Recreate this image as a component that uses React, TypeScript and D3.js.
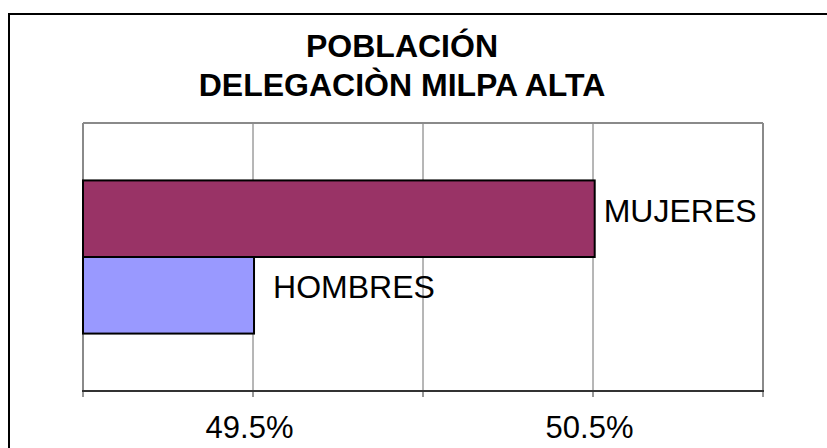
import React from "react";
import * as d3 from "d3";

const titleLines = ["POBLACIÓN", "DELEGACIÒN MILPA ALTA"];
const seriesNames = ["MUJERES", "HOMBRES"];
const seriesValues = [50.505, 49.503];
const seriesColors = ["#993366", "#9999FF"];
const gridValues = [49.0, 49.5, 50.0, 50.5, 51.0];
const tickLabelValues = [49.5, 50.5];
const tickLabels = ["49.5%", "50.5%"];
const labelOffsets = [9, 19];

const W = 827;
const H = 448;
const plot = { left: 83, right: 763, top: 123, bottom: 391 };
const FONT = "'Liberation Sans', Arial, sans-serif";

export default function App() {
  const x = d3.scaleLinear().domain([49.0, 51.0]).range([plot.left, plot.right]);
  const y = d3
    .scaleBand<string>()
    .domain(seriesNames)
    .range([plot.top, plot.bottom])
    .paddingInner(0)
    .paddingOuter(0.75);

  return (
    <svg
      width={W}
      height={H}
      viewBox={`0 0 ${W} ${H}`}
      style={{ position: "absolute", left: 0, top: 0, background: "#fff" }}
    >
      <rect x={0} y={0} width={W} height={H} fill="#fff" />
      {/* outer chart border (extends beyond the viewport on right and bottom) */}
      <rect x={9} y={14} width={W + 20} height={H + 20} fill="none" stroke="#000" strokeWidth={2} />

      {/* title */}
      {titleLines.map((t, i) => (
        <text
          key={t}
          x={402}
          y={57 + i * 39}
          textAnchor="middle"
          fontFamily={FONT}
          fontWeight="bold"
          fontSize={32}
          fill="#000"
        >
          {t}
        </text>
      ))}

      {/* inner gridlines */}
      {gridValues.slice(1, -1).map((v) => (
        <line
          key={v}
          x1={x(v)}
          x2={x(v)}
          y1={plot.top}
          y2={plot.bottom}
          stroke="#6e6e6e"
          strokeWidth={1}
        />
      ))}
      {/* plot area frame */}
      <line x1={plot.left} x2={plot.right} y1={plot.top} y2={plot.top} stroke="#8a8a8a" strokeWidth={2} />
      <line x1={plot.right} x2={plot.right} y1={plot.top} y2={plot.bottom} stroke="#8a8a8a" strokeWidth={2} />
      <line x1={plot.left} x2={plot.left} y1={plot.top} y2={plot.bottom} stroke="#8a8a8a" strokeWidth={2} />

      {/* bars */}
      {seriesNames.map((s, i) => (
        <rect
          key={s}
          x={x(49.0)}
          y={y(s)!}
          width={x(seriesValues[i]) - x(49.0)}
          height={y.bandwidth()}
          fill={seriesColors[i]}
          stroke="#000"
          strokeWidth={2}
        />
      ))}

      {/* category axis (bottom) */}
      <line x1={plot.left - 1} x2={plot.right + 1} y1={plot.bottom} y2={plot.bottom} stroke="#333" strokeWidth={2} />
      {gridValues.map((v) => (
        <line key={v} x1={x(v)} x2={x(v)} y1={plot.bottom} y2={plot.bottom + 6} stroke="#333" strokeWidth={1} />
      ))}
      {tickLabelValues.map((v, i) => (
        <text
          key={v}
          x={x(v) - 3.5}
          y={438}
          textAnchor="middle"
          fontFamily={FONT}
          fontSize={31}
          fill="#000"
        >
          {tickLabels[i]}
        </text>
      ))}

      {/* data labels */}
      {seriesNames.map((s, i) => (
        <text
          key={s}
          x={x(seriesValues[i]) + labelOffsets[i]}
          y={y(s)! + y.bandwidth() / 2 + 3}
          fontFamily={FONT}
          fontSize={32}
          fill="#000"
        >
          {s}
        </text>
      ))}
    </svg>
  );
}
